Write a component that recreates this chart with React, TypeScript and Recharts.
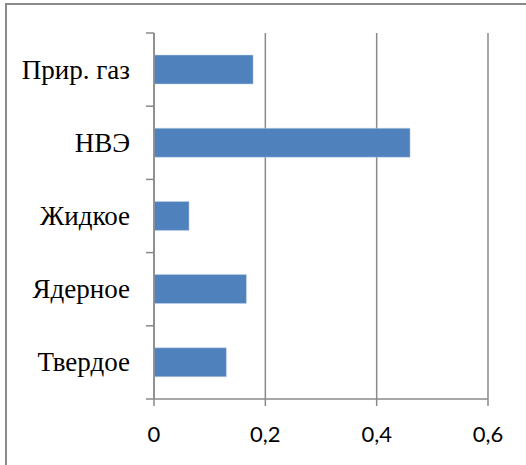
import { Bar, BarChart, CartesianGrid, XAxis, YAxis } from 'recharts'

const categories = ['Прир. газ', 'НВЭ', 'Жидкое', 'Ядерное', 'Твердое']
const values = [0.178, 0.46, 0.063, 0.166, 0.13]
const xTicks = [0, 0.2, 0.4, 0.6]

const data = categories.map((name, i) => ({ name, value: values[i] }))

const AXIS_GRAY = '#8a8a8a'

// label in the middle of the band, tick marks on the band edges (like Excel)
function CategoryTick(props: any) {
	const { x, y, payload, index, visibleTicksCount } = props
	const half = payload && payload.offset ? payload.offset : 36.6
	const lx = x + 16
	const last = index === visibleTicksCount - 1
	return (
		<g>
			<text x={x} y={y + 9} textAnchor='end' fontFamily='Liberation Serif' fontSize={27} fill='#000'>
				{payload.value}
			</text>
			<line x1={lx} x2={lx + 8} y1={y - half} y2={y - half} stroke={AXIS_GRAY} strokeWidth={1.5} />
			{last ? <line x1={lx} x2={lx + 8} y1={y + half} y2={y + half} stroke={AXIS_GRAY} strokeWidth={1.5} /> : null}
		</g>
	)
}

function ValueTick(props: any) {
	const { x, y, payload } = props
	return (
		<text x={x} y={y + 16} textAnchor='middle' fontFamily='Lato' fontSize={22} fill='#000'>
			{String(payload.value).replace('.', ',')}
		</text>
	)
}

export default function App() {
	return (
		<div style={{ position: 'absolute', left: 0, top: 0, width: 526, height: 465, overflow: 'hidden', background: '#fff' }}>
			<div
				style={{
					position: 'absolute',
					left: 5,
					top: 3,
					width: 521,
					height: 462,
					borderLeft: `2px solid ${AXIS_GRAY}`,
					borderTop: `2px solid ${AXIS_GRAY}`,
					boxSizing: 'border-box'
				}}
			/>
			<div style={{ position: 'absolute', left: 0, top: 0 }}>
				<BarChart
					width={526}
					height={465}
					data={data}
					layout='vertical'
					margin={{ top: 33, right: 38, bottom: 26, left: 0 }}
				>
					<CartesianGrid horizontal={false} stroke={AXIS_GRAY} strokeWidth={1.5} />
					<XAxis
						type='number'
						domain={[0, 0.6]}
						ticks={xTicks}
						height={40}
						tickSize={7}
						tickMargin={20}
						axisLine={{ stroke: AXIS_GRAY, strokeWidth: 1.5 }}
						tickLine={{ stroke: AXIS_GRAY, strokeWidth: 1.5 }}
						tick={<ValueTick />}
					/>
					<YAxis
						type='category'
						dataKey='name'
						width={154}
						tickSize={8}
						tickMargin={16}
						interval={0}
						axisLine={{ stroke: AXIS_GRAY, strokeWidth: 1.5 }}
						tickLine={false}
						tick={<CategoryTick />}
					/>
					<Bar dataKey='value' fill='#4f81bd' stroke='#c6d5ea' strokeWidth={0.5} barSize={29} isAnimationActive={false} />
				</BarChart>
			</div>
		</div>
	)
}
